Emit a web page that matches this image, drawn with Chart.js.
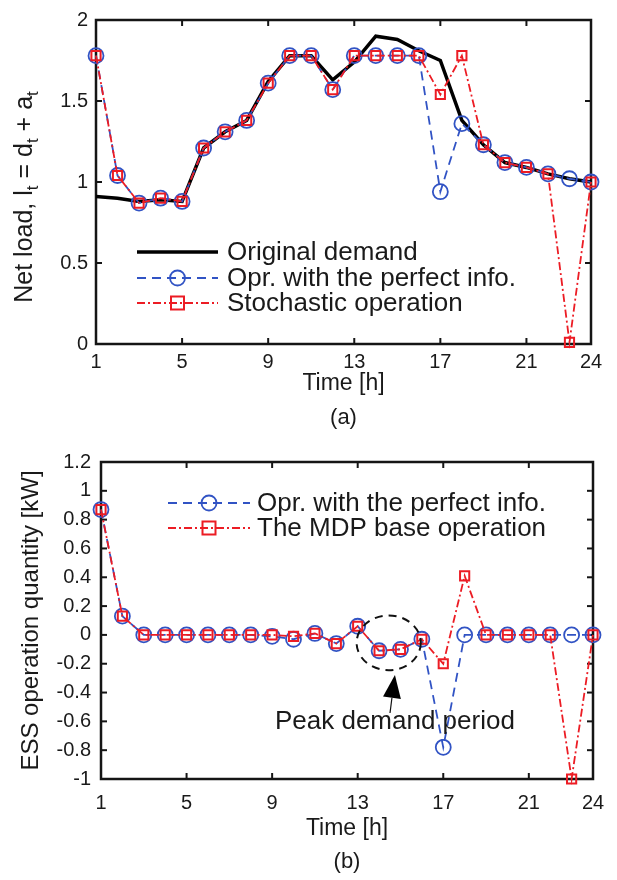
<!DOCTYPE html>
<html><head><meta charset="utf-8">
<script src="https://cdn.jsdelivr.net/npm/chart.js@4.4.0/dist/chart.umd.min.js"></script>
<style>
html,body{margin:0;padding:0;background:#fff;}
#wrap{position:relative;width:617px;height:880px;background:#fff;}
.c{position:absolute;left:0;width:617px;height:440px;}
</style></head><body>
<div id="wrap">
<div class="c" style="top:0"><canvas id="ca" width="617" height="440"></canvas></div>
<div class="c" style="top:440px"><canvas id="cb" width="617" height="440"></canvas></div>
</div>
<script>
// ---- data ----
const hours = [1,2,3,4,5,6,7,8,9,10,11,12,13,14,15,16,17,18,19,20,21,22,23,24];
const xTickValues = [1,5,9,13,17,21,24];
const netLoadTicks = [0,0.5,1,1.5,2];
const essTicks = [-1,-0.8,-0.6,-0.4,-0.2,0,0.2,0.4,0.6,0.8,1,1.2];

const originalDemand  = [0.91,0.90,0.88,0.89,0.88,1.21,1.31,1.38,1.62,1.78,1.78,1.63,1.74,1.90,1.88,1.81,1.75,1.38,1.23,1.12,1.09,1.05,1.02,1.00];
const perfectInfoLoad = [1.78,1.04,0.87,0.90,0.88,1.21,1.31,1.38,1.61,1.78,1.78,1.57,1.78,1.78,1.78,1.78,0.94,1.36,1.23,1.12,1.09,1.05,1.02,1.00];
const stochasticLoad  = [1.78,1.04,0.87,0.90,0.88,1.21,1.31,1.38,1.61,1.78,1.78,1.57,1.78,1.78,1.78,1.78,1.54,1.78,1.23,1.12,1.09,1.05,0.01,1.00];

const perfectInfoESS  = [0.87,0.13,0,0,0,0,0,0,-0.01,-0.03,0.01,-0.06,0.06,-0.11,-0.10,-0.03,-0.78,0,0,0,0,0,0,0];
const mdpESS          = [0.87,0.13,0,0,0,0,0,0,0,-0.01,0.01,-0.06,0.06,-0.11,-0.10,-0.03,-0.20,0.41,0,0,0,0,-1.00,0];

// annotation (data units)
const peakEllipse = {x:14.45, y:-0.055, rx:1.5, ry:0.19};
const peakArrow = {from:[14.51,-0.542], to:[14.74,-0.278]};
const peakLabel = {x:14.74, y:-0.604, text:'Peak demand period'};

// ---- styles ----
const FONT = "'Liberation Sans', Arial, Helvetica, sans-serif";
const TXT = '#1a1a1a';
const BLUE = '#3153c4';
const RED = '#ec1c24';

function pts(arr){ return arr.map((v,i)=>({x:hours[i], y:v})); }

const blackDS = (label,data)=>({label, data:pts(data), borderColor:'#000', borderWidth:3.5, pointRadius:0, pointHoverRadius:0, clip:false, order:2, tension:0});
const blueDS = (label,data)=>({label, data:pts(data), borderColor:BLUE, borderWidth:1.8, borderDash:[9,6], pointStyle:'circle', pointRadius:7.5, pointBorderWidth:1.8, pointBorderColor:BLUE, pointBackgroundColor:'rgba(0,0,0,0)', clip:false, order:1, tension:0});
const redDS = (label,data)=>({label, data:pts(data), borderColor:RED, borderWidth:1.8, borderDash:[8,3,2,3], pointStyle:'rect', pointRadius:6.5, pointBorderWidth:2, pointBorderColor:RED, pointBackgroundColor:'rgba(0,0,0,0)', clip:false, order:0, tension:0});

// ---- plugins ----
const boxPlugin = {
  id:'matBox',
  beforeDatasetsDraw(chart){
    const {ctx, chartArea:a, scales} = chart;
    ctx.save();
    ctx.strokeStyle = '#151515';
    ctx.lineWidth = 2.5;
    ctx.strokeRect(a.left, a.top, a.right-a.left, a.bottom-a.top);
    ctx.lineWidth = 2;
    const tl = 6;
    const seg=(x1,y1,x2,y2)=>{ctx.beginPath();ctx.moveTo(x1,y1);ctx.lineTo(x2,y2);ctx.stroke();};
    scales.x.ticks.forEach(t=>{
      const px = scales.x.getPixelForValue(t.value);
      if (px<=a.left+2 || px>=a.right-2) return;
      seg(px,a.bottom,px,a.bottom-tl); seg(px,a.top,px,a.top+tl);
    });
    scales.y.ticks.forEach(t=>{
      const py = scales.y.getPixelForValue(t.value);
      if (py<=a.top+2 || py>=a.bottom-2) return;
      seg(a.left,py,a.left+tl,py); seg(a.right,py,a.right-tl,py);
    });
    ctx.restore();
  }
};

function drawMarker(ctx, style, x, y, r, color, bw){
  ctx.save();
  ctx.setLineDash([]);
  ctx.strokeStyle = color; ctx.lineWidth = bw;
  ctx.beginPath();
  if (style==='circle') ctx.arc(x,y,r,0,Math.PI*2);
  else ctx.rect(x-r, y-r, 2*r, 2*r);
  ctx.stroke();
  ctx.restore();
}

const legendPlugin = {
  id:'matLegend',
  afterDraw(chart, args, opts){
    if (!opts || !opts.rows) return;
    const ctx = chart.ctx;
    const dsets = chart.data.datasets;
    ctx.save();
    opts.items.forEach((di, k)=>{
      const ds = dsets[di];
      const y = opts.rows[k];
      ctx.save();
      ctx.strokeStyle = ds.borderColor;
      ctx.lineWidth = ds.borderWidth;
      ctx.setLineDash(ds.borderDash || []);
      ctx.beginPath(); ctx.moveTo(opts.x0, y); ctx.lineTo(opts.x1, y); ctx.stroke();
      ctx.restore();
      if (ds.pointRadius > 0) drawMarker(ctx, ds.pointStyle, (opts.x0+opts.x1)/2, y, ds.pointRadius, ds.pointBorderColor, ds.pointBorderWidth);
      ctx.fillStyle = TXT;
      ctx.font = opts.fontSize + 'px ' + FONT;
      ctx.textBaseline = 'middle';
      ctx.textAlign = 'left';
      ctx.fillText(ds.label, opts.textX, y+1);
    });
    ctx.restore();
  }
};

const captionPlugin = {
  id:'caption',
  afterDraw(chart, args, opts){
    if (!opts || !opts.text) return;
    const ctx = chart.ctx, a = chart.chartArea;
    ctx.save();
    ctx.fillStyle = TXT;
    ctx.font = opts.fontSize + 'px ' + FONT;
    ctx.textAlign = 'center'; ctx.textBaseline = 'middle';
    ctx.fillText(opts.text, (a.left+a.right)/2, opts.y);
    ctx.restore();
  }
};

const yTitleSubPlugin = {
  id:'yTitleSub',
  afterDraw(chart, args, opts){
    if (!opts || !opts.parts) return;
    const ctx = chart.ctx, a = chart.chartArea;
    ctx.save();
    ctx.fillStyle = TXT;
    ctx.translate(opts.x, (a.top+a.bottom)/2 + opts.dy);
    ctx.rotate(-Math.PI/2);
    ctx.textBaseline = 'middle';
    ctx.textAlign = 'left';
    const big = opts.fontSize + 'px ' + FONT, small = opts.subSize + 'px ' + FONT;
    let total = 0;
    opts.parts.forEach(p=>{ ctx.font = p.sub ? small : big; total += ctx.measureText(p.t).width; });
    let x = -total/2;
    opts.parts.forEach(p=>{
      ctx.font = p.sub ? small : big;
      ctx.fillText(p.t, x, p.sub ? opts.subShift : 0);
      x += ctx.measureText(p.t).width;
    });
    ctx.restore();
  }
};

const annotationPlugin = {
  id:'peakAnno',
  afterDatasetsDraw(chart, args, opts){
    if (!opts || !opts.on) return;
    const ctx = chart.ctx, sx = chart.scales.x, sy = chart.scales.y;
    ctx.save();
    const cx = sx.getPixelForValue(peakEllipse.x), cy = sy.getPixelForValue(peakEllipse.y);
    const rx = sx.getPixelForValue(peakEllipse.x + peakEllipse.rx) - cx;
    const ry = cy - sy.getPixelForValue(peakEllipse.y + peakEllipse.ry);
    ctx.strokeStyle = '#111'; ctx.lineWidth = 2; ctx.setLineDash([8,6]);
    ctx.beginPath(); ctx.ellipse(cx, cy, rx, ry, 0, 0, Math.PI*2); ctx.stroke();
    ctx.setLineDash([]);
    const x1 = sx.getPixelForValue(peakArrow.from[0]), y1 = sy.getPixelForValue(peakArrow.from[1]);
    const x2 = sx.getPixelForValue(peakArrow.to[0]), y2 = sy.getPixelForValue(peakArrow.to[1]);
    const ang = Math.atan2(y2-y1, x2-x1);
    const hl = 23, hw = 9;
    const bx = x2 - hl*Math.cos(ang), by = y2 - hl*Math.sin(ang);
    ctx.lineWidth = 1.2; ctx.strokeStyle = '#111';
    ctx.beginPath(); ctx.moveTo(x1,y1); ctx.lineTo(bx,by); ctx.stroke();
    ctx.fillStyle = '#000';
    ctx.beginPath();
    ctx.moveTo(x2,y2);
    ctx.lineTo(bx + hw*Math.sin(ang), by - hw*Math.cos(ang));
    ctx.lineTo(bx - hw*Math.sin(ang), by + hw*Math.cos(ang));
    ctx.closePath(); ctx.fill();
    ctx.fillStyle = TXT;
    ctx.font = opts.fontSize + 'px ' + FONT;
    ctx.textAlign = 'center'; ctx.textBaseline = 'middle';
    ctx.fillText(peakLabel.text, sx.getPixelForValue(peakLabel.x), sy.getPixelForValue(peakLabel.y));
    ctx.restore();
  }
};

function xScale(tickPad, titlePadBottom, axisHeight){
  return {
    type:'linear', min:1, max:24,
    afterBuildTicks: s => { s.ticks = xTickValues.map(v=>({value:v})); },
    afterFit: s => { s.height = axisHeight; },
    grid:{display:false, drawTicks:false},
    border:{display:false},
    ticks:{font:{family:FONT, size:20}, color:TXT, padding:tickPad, maxRotation:0, autoSkip:false, callback: v => String(v)},
    title:{display:true, text:'Time [h]', font:{family:FONT, size:23}, color:TXT, padding:{top:0, bottom:titlePadBottom}}
  };
}

// ---- chart (a) ----
new Chart(document.getElementById('ca'), {
  type:'line',
  data:{datasets:[
    blackDS('Original demand', originalDemand),
    blueDS('Opr. with the perfect info.', perfectInfoLoad),
    redDS('Stochastic operation', stochasticLoad)
  ]},
  options:{
    responsive:false, animation:false, devicePixelRatio:1,
    layout:{padding:{top:18, right:26, left:0, bottom:0}},
    scales:{
      x: xScale(6, 43, 96),
      y:{
        type:'linear', min:0, max:2,
        afterBuildTicks: s => { s.ticks = netLoadTicks.map(v=>({value:v})); },
        afterFit: s => { s.width = 96; },
        grid:{display:false, drawTicks:false},
        border:{display:false},
        ticks:{font:{family:FONT, size:20}, color:TXT, padding:8, callback: v => String(v)}
      }
    },
    plugins:{
      legend:{display:false}, tooltip:{enabled:false},
      matLegend:{items:[0,1,2], rows:[252,278,303], x0:137, x1:218, textX:227, fontSize:26},
      caption:{text:'(a)', y:418, fontSize:22},
      yTitleSub:{x:25, dy:15, fontSize:25, subSize:17, subShift:8,
        parts:[{t:'Net load, l'},{t:'t',sub:true},{t:' = d'},{t:'t',sub:true},{t:' + a'},{t:'t',sub:true}]}
    }
  },
  plugins:[boxPlugin, legendPlugin, captionPlugin, yTitleSubPlugin]
});

// ---- chart (b) ----
new Chart(document.getElementById('cb'), {
  type:'line',
  data:{datasets:[
    blueDS('Opr. with the perfect info.', perfectInfoESS),
    redDS('The MDP base operation', mdpESS)
  ]},
  options:{
    responsive:false, animation:false, devicePixelRatio:1,
    layout:{padding:{top:22, right:24, left:0, bottom:0}},
    scales:{
      x: xScale(12, 38, 101),
      y:{
        type:'linear', min:-1, max:1.2,
        afterBuildTicks: s => { s.ticks = essTicks.map(v=>({value:v})); },
        afterFit: s => { s.width = 101; },
        grid:{display:false, drawTicks:false},
        border:{display:false},
        ticks:{font:{family:FONT, size:20}, color:TXT, padding:10, callback: v => String(v)},
        title:{display:true, text:'ESS operation quantity [kW]', font:{family:FONT, size:24}, color:TXT, padding:{top:17, bottom:0}}
      }
    },
    plugins:{
      legend:{display:false}, tooltip:{enabled:false},
      matLegend:{items:[0,1], rows:[503,528].map(v=>v-440), x0:168, x1:250, textX:257, fontSize:26},
      caption:{text:'(b)', y:422, fontSize:22},
      peakAnno:{on:true, fontSize:26}
    }
  },
  plugins:[boxPlugin, legendPlugin, captionPlugin, annotationPlugin]
});
</script>
</body></html>
